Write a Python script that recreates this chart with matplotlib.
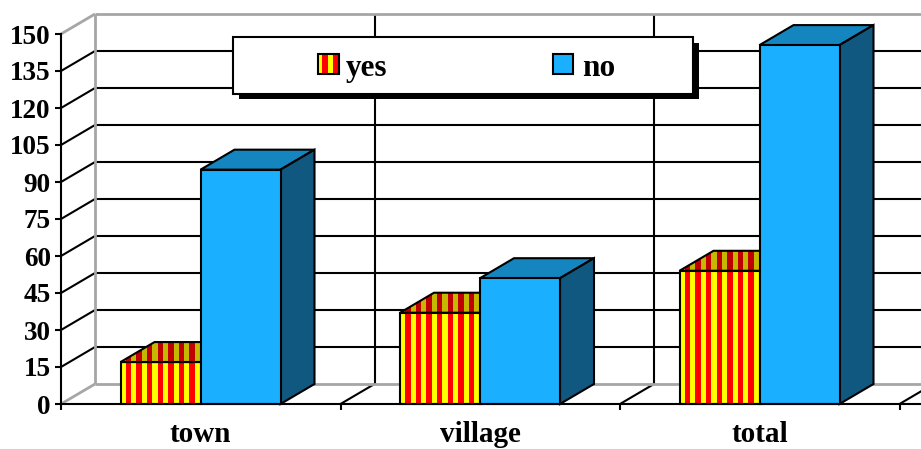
import matplotlib
matplotlib.use("Agg")
import matplotlib.pyplot as plt
from matplotlib.patches import Polygon, Rectangle
from matplotlib.transforms import Affine2D

categories = ["town", "village", "total"]
yes_values = [17, 37, 54]
no_values = [95, 51, 145.5]
y_ticks = list(range(0, 151, 15))

W, H = 921, 449
FONT = "Liberation Serif"
fig = plt.figure(figsize=(W / 100, H / 100), dpi=100, facecolor="white")

# Axes frame: front plane of the 3D box, in pixels from the top-left corner
left, base, top = 61, 404, 34
cat_px = 279.5
ax = fig.add_axes([left / W, 1 - base / H, (W - left) / W, (base - top) / H])
ax.set_xlim(0, (W - left) / cat_px)
ax.set_ylim(0, 150)
ax.patch.set_visible(False)

# Depth of the box expressed in data units
DX = 34 / cat_px
DY = 20 * 150 / (base - top)
BAR_W = 80 / cat_px
BAR_OFF = 59.5 / cat_px
XMAX = ax.get_xlim()[1]
LW = 1.5
GRAY = "#a6a6a6"
BLACK = "#000000"


def line(xs, ys, color=BLACK, lw=LW, z=1):
    ax.plot(xs, ys, color=color, lw=lw, zorder=z, clip_on=False, solid_capstyle="butt")


def add(patch):
    ax.add_patch(patch)
    patch.set_clip_on(False)
    return patch


# Back wall, side wall and floor
for v in y_ticks[1:-1]:
    line([DX, XMAX], [v + DY, v + DY])
    line([0, DX], [v, v + DY])
for i in range(1, 4):
    line([i + DX, i + DX], [DY, 150 + DY])
    line([i, i + DX], [0, DY])
line([DX, DX], [DY, 150 + DY], GRAY, 2, 2)
line([DX, XMAX], [DY, DY], GRAY, 2, 2)
line([DX, XMAX], [150 + DY, 150 + DY], GRAY, 2, 2)
line([0, DX], [0, DY], GRAY, 2, 2)
line([0, DX], [150, 150 + DY], GRAY, 2, 2)


def stripes(poly, xa, xb, c1, c2, z):
    """Fill a polygon with alternating vertical bands."""
    poly.set_facecolor(c1)
    poly.set_edgecolor("none")
    poly.set_zorder(z)
    add(poly)
    step = 10.6 / cat_px
    x = xa + step / 2
    while x < xb:
        r = Rectangle((x, 0), step / 2, 170, facecolor=c2, edgecolor="none", zorder=z)
        ax.add_patch(r)
        r.set_clip_path(poly)
        x += step


def outline(pts, z):
    add(Polygon(pts, closed=True, fill=False, edgecolor=BLACK, lw=LW,
                joinstyle="miter", zorder=z))


for i, (y_val, n_val) in enumerate(zip(yes_values, no_values)):
    x0 = i + BAR_OFF
    x1 = x0 + BAR_W
    x2 = x1 + BAR_W
    z = 3 + i

    # "yes" column: top face, then front face
    tp = [(x0, y_val), (x1, y_val), (x1 + DX, y_val + DY), (x0 + DX, y_val + DY)]
    stripes(Polygon(tp, closed=True), x0, x1 + DX, "#c4b800", "#c00000", z)
    outline(tp, z + 0.1)
    fp = [(x0, 0), (x1, 0), (x1, y_val), (x0, y_val)]
    stripes(Polygon(fp, closed=True), x0, x1, "#ffff00", "#ff0000", z)
    outline(fp, z + 0.1)

    # "no" column: top, side and front faces
    tp = [(x1, n_val), (x2, n_val), (x2 + DX, n_val + DY), (x1 + DX, n_val + DY)]
    add(Polygon(tp, closed=True, facecolor="#1485bf", edgecolor=BLACK, lw=LW,
                joinstyle="miter", zorder=z + 0.2))
    sp = [(x2, 0), (x2 + DX, DY), (x2 + DX, n_val + DY), (x2, n_val)]
    add(Polygon(sp, closed=True, facecolor="#10587f", edgecolor=BLACK, lw=LW,
                joinstyle="miter", zorder=z + 0.2))
    add(Rectangle((x1, 0), BAR_W, n_val, facecolor="#1ab0ff", edgecolor=BLACK,
                  lw=LW, joinstyle="miter", zorder=z + 0.3))

# Front axes
for s in ("top", "right"):
    ax.spines[s].set_visible(False)
for s in ("left", "bottom"):
    ax.spines[s].set_linewidth(LW)
    ax.spines[s].set_zorder(10)
ax.set_yticks(y_ticks)
ax.set_xticks(range(0, 4))
ax.set_xticklabels([])
ax.tick_params(axis="both", length=4.3, width=LW, direction="out")
ax.tick_params(axis="y", pad=3)
for lab in ax.get_yticklabels():
    lab.set_fontfamily(FONT)
    lab.set_fontweight("bold")
    lab.set_fontsize(19.5)
for i, name in enumerate(categories):
    ax.annotate(name, (i + 0.5, 0), xytext=(0, -27.7), textcoords="offset points",
                ha="center", va="baseline", annotation_clip=False,
                fontfamily=FONT, fontweight="bold", fontsize=21)

# Legend box, placed in pixel coordinates
px = Affine2D().scale(1 / W, -1 / H).translate(0, 1) + fig.transFigure
def box(x0, y0, x1, y1, **kw):
    p = Rectangle((x0, y0), x1 - x0, y1 - y0, transform=px, **kw)
    fig.add_artist(p)
    return p

box(239, 43, 699, 99, facecolor=BLACK, edgecolor=BLACK, lw=0, zorder=20)
box(233, 37, 693, 94, facecolor="white", edgecolor=BLACK, lw=1.5, zorder=21)
box(318, 54, 339, 74, facecolor="#ffff00", edgecolor="none", zorder=22)
box(322, 54, 328, 74, facecolor="#ff0000", edgecolor="none", zorder=22)
box(333, 54, 339, 74, facecolor="#ff0000", edgecolor="none", zorder=22)
box(318, 54, 339, 74, fill=False, edgecolor=BLACK, lw=1.5, zorder=23)
box(553, 54, 573, 74, facecolor="#1ab0ff", edgecolor=BLACK, lw=1.5, zorder=22)
for x, s in ((346, "yes"), (582, "no")):
    fig.text(x / W, 1 - 76 / H, s, fontfamily=FONT, fontweight="bold", fontsize=22.5,
             ha="left", va="baseline", zorder=24)

fig.savefig("out.png", dpi=100, facecolor="white")
